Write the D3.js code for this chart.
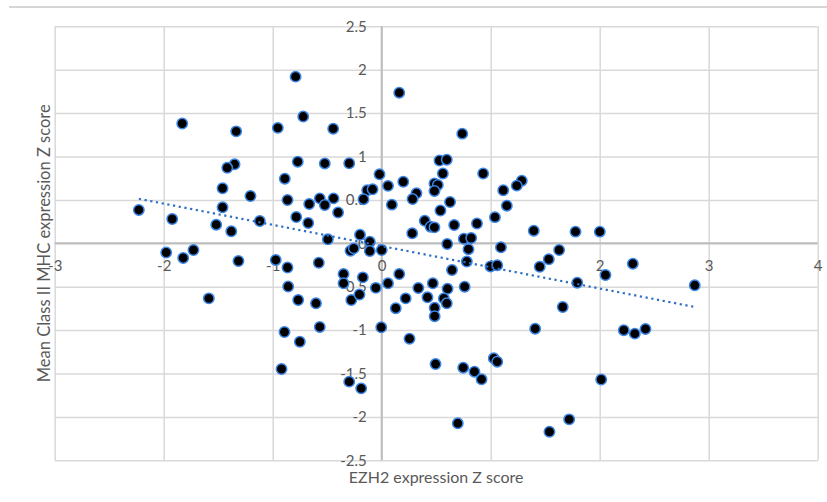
<!DOCTYPE html>
<html>
<head>
<meta charset="utf-8">
<script src="https://cdn.jsdelivr.net/npm/d3@7"></script>
<style>
  html, body { margin: 0; padding: 0; background: #ffffff; }
  svg { display: block; }
</style>
</head>
<body>
<svg id="chart" width="827" height="502"></svg>
<script>
// ---- data ----
const ezh2 = [
  -0.79, -1.83, -1.335, -0.953, -0.72, -0.445, -1.35, -1.417, -0.77, -0.522,
  -0.889, -1.46, -1.204, -0.864, -0.568, -0.442, -0.665, -0.522, -0.40, -1.46,
  -0.784, -0.674, -1.118, -1.518, -1.38, -1.922, -2.228, -0.494, -1.977, -1.727,
  -1.821, -1.314, -0.972, -0.864, -0.577, -0.858, -0.766, -0.603, -0.568, -0.892,
  -0.751, -0.919, -1.586, -0.298, 0.161, 0.739, 0.530, 0.597, -0.02, 0.931,
  0.561, 0.058, 0.198, 0.484, 0.515, 1.285, 1.239, 1.115, -0.133, -0.084,
  -0.167, 0.319, 0.283, 0.484, 0.093, 0.627, 0.539, 1.148, 0.395, 0.448,
  0.484, 0.665, 0.874, 1.039, 0.280, 1.395, 1.778, 2.001, -0.199, -0.109,
  0.601, 0.753, 0.821, 0.796, 1.094, -0.286, -0.256, -0.109, 0.0, 1.628,
  0.781, 0.998, 1.060, 1.450, 1.533, 2.304, 2.053, 1.794, 0.645, 0.161,
  -0.350, -0.173, -0.350, 0.058, -0.054, 0.336, 0.469, 0.604, 0.761, -0.279,
  -0.204, 0.220, 0.420, 0.570, 0.597, 0.129, 0.486, 0.486, -0.004, 0.255,
  1.408, 1.661, 2.221, 2.322, 2.420, 2.872, 1.028, 1.060, 0.494, 0.748,
  0.851, 0.916, -0.298, -0.188, 0.698, 1.539, 1.720, 2.014
];
const mhc = [
  1.92, 1.38, 1.29, 1.33, 1.46, 1.32, 0.91, 0.87, 0.94, 0.92,
  0.744, 0.634, 0.545, 0.499, 0.518, 0.518, 0.453, 0.441, 0.355, 0.415,
  0.303, 0.234, 0.257, 0.214, 0.138, 0.28, 0.384, 0.046, -0.106, -0.077,
  -0.169, -0.204, -0.192, -0.279, -0.224, -0.498, -0.653, -0.691, -0.964, -1.022,
  -1.134, -1.448, -0.634, 0.922, 1.735, 1.263, 0.954, 0.963, 0.795, 0.804,
  0.804, 0.662, 0.709, 0.689, 0.672, 0.721, 0.664, 0.611, 0.611, 0.622,
  0.508, 0.576, 0.510, 0.603, 0.445, 0.476, 0.378, 0.433, 0.259, 0.191,
  0.184, 0.211, 0.228, 0.301, 0.115, 0.145, 0.134, 0.134, 0.098, 0.017,
  -0.008, 0.052, 0.061, -0.068, -0.046, -0.085, -0.058, -0.089, -0.077, -0.077,
  -0.210, -0.267, -0.253, -0.270, -0.184, -0.235, -0.365, -0.454, -0.308, -0.354,
  -0.354, -0.392, -0.461, -0.461, -0.513, -0.515, -0.461, -0.524, -0.500, -0.653,
  -0.590, -0.634, -0.622, -0.636, -0.691, -0.748, -0.743, -0.840, -0.968, -1.099,
  -0.984, -0.734, -1.001, -1.041, -0.987, -0.484, -1.325, -1.364, -1.391, -1.433,
  -1.479, -1.567, -1.594, -1.671, -2.074, -2.171, -2.028, -1.569
];
const xTicks = [-3, -2, -1, 0, 1, 2, 3, 4];
const yTicks = [-2.5, -2, -1.5, -1, -0.5, 0, 0.5, 1, 1.5, 2, 2.5];
const xTitle = "EZH2 expression Z score";
const yTitle = "Mean Class II MHC expression Z score";

// ---- layout ----
const svg = d3.select("#chart");
const L = 54.7, R = 817.7, T = 26.3, B = 460.3;
const x = d3.scaleLinear().domain([-3, 4]).range([L, R]);
const y = d3.scaleLinear().domain([-2.5, 2.5]).range([B, T]);
const tickColor = "#595959";
const font = "Lato, 'Open Sans', sans-serif";

// top separator line
svg.append("line")
  .attr("x1", 9).attr("x2", 827).attr("y1", 7).attr("y2", 7)
  .attr("stroke", "#d6d6d6").attr("stroke-width", 2);

// gridlines
const gx = svg.append("g").attr("transform", `translate(0,${B})`)
  .call(d3.axisBottom(x).tickValues(xTicks).tickSize(-(B - T)).tickFormat(""));
gx.select(".domain").remove();
gx.selectAll("line").attr("stroke", "#d9d9d9").attr("stroke-width", 1.5);

const gy = svg.append("g").attr("transform", `translate(${L},0)`)
  .call(d3.axisLeft(y).tickValues(yTicks).tickSize(-(R - L)).tickFormat(""));
gy.select(".domain").remove();
gy.selectAll("line").attr("stroke", "#d9d9d9").attr("stroke-width", 1.5);

// axis lines through zero
svg.append("line")
  .attr("x1", L).attr("x2", R).attr("y1", y(0)).attr("y2", y(0))
  .attr("stroke", "#bdbdbd").attr("stroke-width", 2);
svg.append("line")
  .attr("x1", x(0)).attr("x2", x(0)).attr("y1", T).attr("y2", B)
  .attr("stroke", "#bdbdbd").attr("stroke-width", 2);

// tick labels
const fmt = d => String(d);
const ax = svg.append("g").attr("transform", `translate(0,${y(0)})`)
  .call(d3.axisBottom(x).tickValues(xTicks).tickSize(0).tickPadding(17).tickFormat(fmt));
ax.select(".domain").remove();
ax.selectAll("text").attr("fill", tickColor).style("font-family", font).style("font-size", "15px");

const ay = svg.append("g").attr("transform", `translate(${x(0)},0)`)
  .call(d3.axisLeft(y).tickValues(yTicks).tickSize(0).tickPadding(15).tickFormat(fmt));
ay.select(".domain").remove();
ay.selectAll("text").attr("fill", tickColor).style("font-family", font).style("font-size", "15px");

// axis titles
svg.append("text")
  .attr("x", (L + R) / 2).attr("y", 483)
  .attr("text-anchor", "middle")
  .attr("fill", tickColor)
  .style("font-family", font).style("font-size", "16px")
  .text(xTitle);
svg.append("text")
  .attr("transform", `translate(50,${(T + B) / 2}) rotate(-90)`)
  .attr("text-anchor", "middle")
  .attr("fill", tickColor)
  .style("font-family", font).style("font-size", "16.5px")
  .text(yTitle);

// points
const pts = ezh2.map((v, i) => ({ x: v, y: mhc[i] }));
svg.append("g").selectAll("circle").data(pts).join("circle")
  .attr("cx", d => x(d.x)).attr("cy", d => y(d.y)).attr("r", 5.2)
  .attr("fill", "#000000").attr("stroke", "#3a86e8").attr("stroke-width", 1.5);

// linear trendline (least squares on the data)
const mx = d3.mean(ezh2), my = d3.mean(mhc);
let sxy = 0, sxx = 0;
ezh2.forEach((v, i) => { sxy += (v - mx) * (mhc[i] - my); sxx += (v - mx) * (v - mx); });
const slope = sxy / sxx, icpt = my - slope * mx;
const [x0, x1] = d3.extent(ezh2);
svg.append("line")
  .attr("x1", x(x0)).attr("y1", y(icpt + slope * x0))
  .attr("x2", x(x1)).attr("y2", y(icpt + slope * x1))
  .attr("stroke", "#2e6fc4").attr("stroke-width", 2.2)
  .attr("stroke-dasharray", "2.2 3.6");
</script>
</body>
</html>
